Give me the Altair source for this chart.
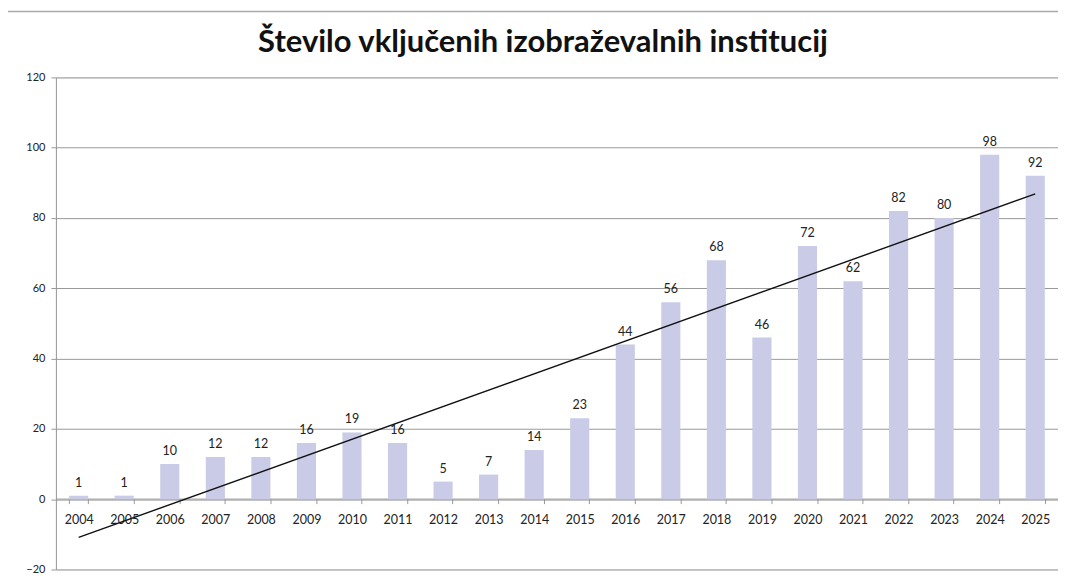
import altair as alt
import pandas as pd
import numpy as np

years = [str(y) for y in range(2004, 2026)]
values = [1, 1, 10, 12, 12, 16, 19, 16, 5, 7, 14, 23, 44, 56, 68, 46, 72, 62, 82, 80, 98, 92]
title_text = "Število vključenih izobraževalnih institucij"

df = pd.DataFrame({"leto": years, "st": values})

# linear trendline (least squares over category index)
idx = np.arange(len(values))
slope, intercept = np.polyfit(idx, values, 1)
trend = pd.DataFrame({"leto": [years[0], years[-1]],
                      "fit": [intercept, intercept + slope * idx[-1]]})

FONT = "Lato"

x_enc = alt.X("leto:N", sort=years, title=None,
              scale=alt.Scale(paddingInner=0.58, paddingOuter=0.29),
              axis=alt.Axis(labelAngle=0, labelFontSize=12.5, labelColor="#222",
                            domainColor="#999", tickColor="#999", tickSize=5,
                            tickBand="extent", labelPadding=10, offset=-71,
                            labelFont=FONT))
y_scale = alt.Scale(domain=[-20, 120], nice=False, zero=False)
y_axis = alt.Axis(values=list(range(-20, 121, 20)), title=None, labelFontSize=11,
                  labelColor="#222", domainColor="#999", tickColor="#999", tickSize=5,
                  gridColor="#9a9a9a", gridWidth=1, labelPadding=6, labelFont=FONT)

bars = alt.Chart(df).mark_bar(color="#C9CBE7").encode(
    x=x_enc,
    y=alt.Y("st:Q", scale=y_scale, axis=y_axis),
)

labels = alt.Chart(df).mark_text(dy=-13, fontSize=12.5, color="#222", font=FONT).encode(
    x=alt.X("leto:N", sort=years),
    y=alt.Y("st:Q"),
    text="st:Q",
)

line = alt.Chart(trend).mark_line(color="#111", strokeWidth=1.4).encode(
    x=alt.X("leto:N", sort=years),
    y=alt.Y("fit:Q"),
)

frame_top = alt.Chart(pd.DataFrame({"a": [0]})).mark_rule(color="#aaa", strokeWidth=1.5).encode(
    x=alt.value(-48), x2=alt.value(1004), y=alt.value(-66)
)

chart = alt.layer(frame_top, bars, line, labels).properties(
    width=1004, height=493,
    title=alt.TitleParams(title_text, fontSize=31, font=FONT, fontWeight="bold",
                          color="#111", offset=-48, dx=-14, anchor="middle"),
    autosize=alt.AutoSizeParams(type="none"),
    padding={"left": 48, "top": 69, "right": 0, "bottom": 6},
).configure_view(strokeWidth=0).configure(background="white")

chart.save("out.html", embed_options={"renderer": "svg", "actions": False})
